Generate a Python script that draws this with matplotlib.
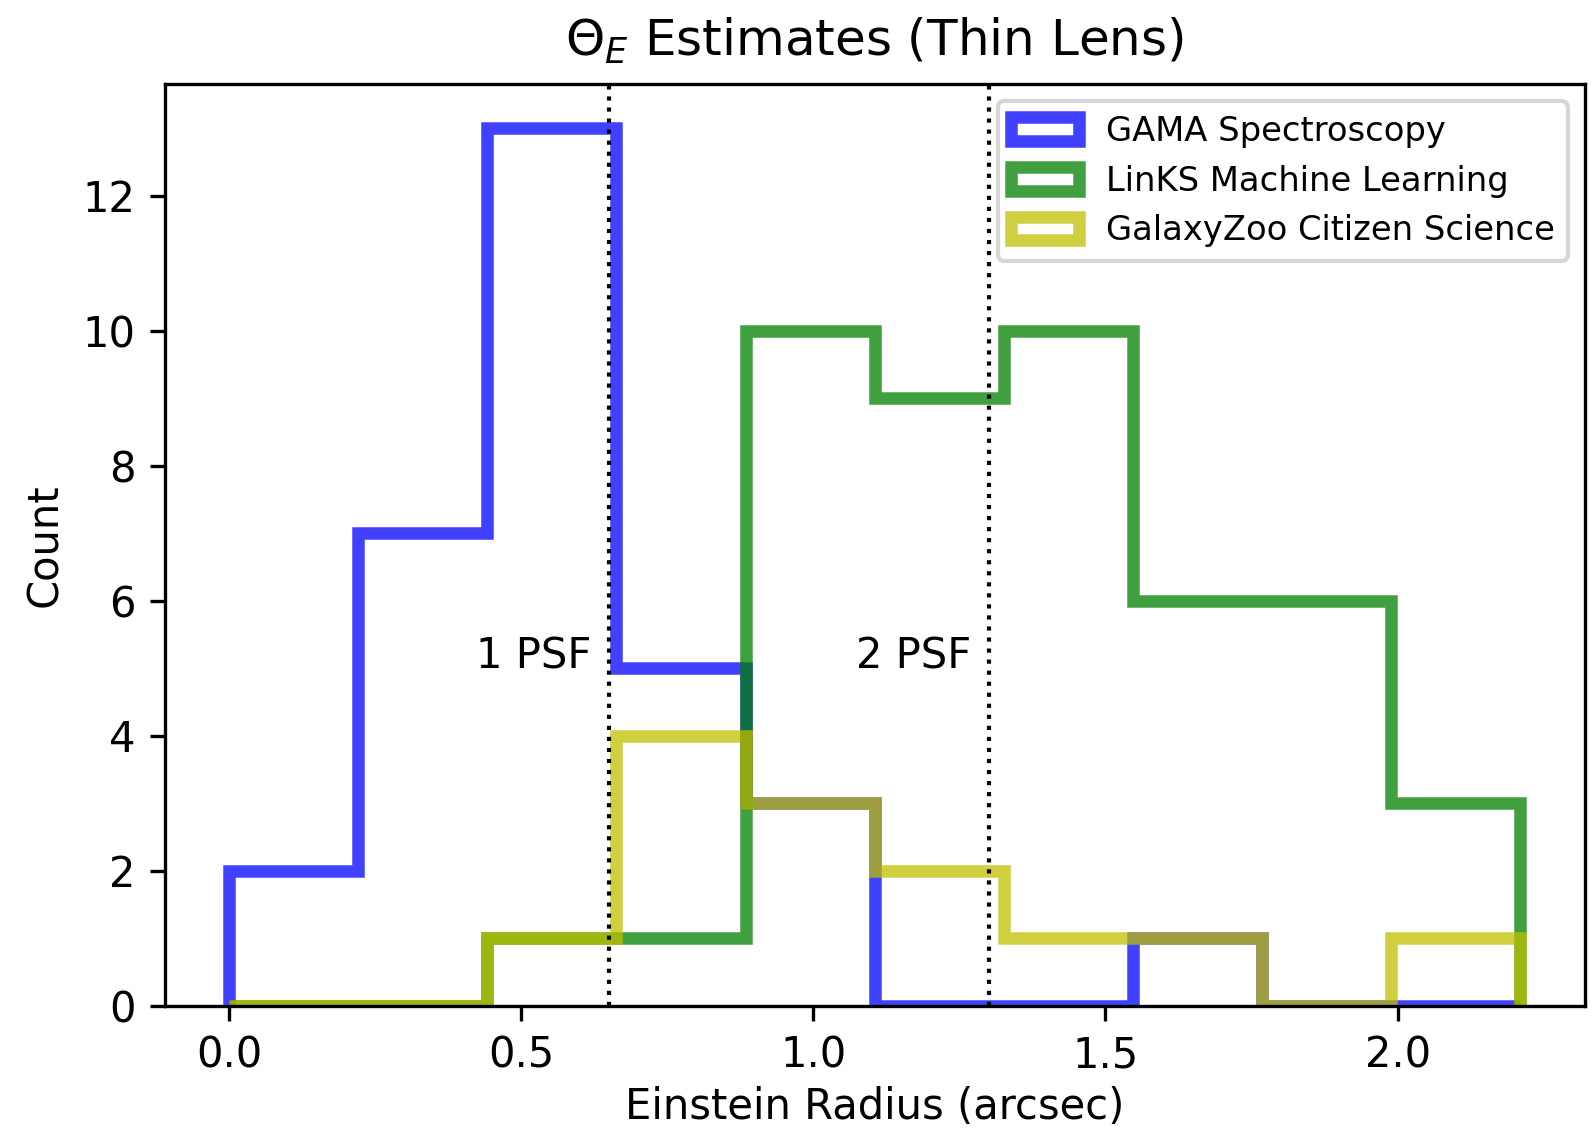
import numpy as np
import matplotlib.pyplot as plt

# bin edges (arcsec) and counts per bin for each sample
edges = np.linspace(0.0, 2.21, 11)
gama_counts = [2, 7, 13, 5, 3, 0, 0, 1, 0, 0]
links_counts = [0, 0, 1, 1, 10, 9, 10, 6, 6, 3]
zoo_counts = [0, 0, 1, 4, 3, 2, 1, 1, 0, 1]

psf = 0.65  # arcsec

fig = plt.figure(figsize=(5.31, 3.77), dpi=300)
ax = fig.add_subplot(111)
fig.subplots_adjust(left=0.1033, right=0.9949, top=0.9255, bottom=0.1107)

ax.hist(edges[:-1], bins=edges, weights=gama_counts, histtype='step',
        lw=3, alpha=0.75, color='b', label='GAMA Spectroscopy')
ax.hist(edges[:-1], bins=edges, weights=links_counts, histtype='step',
        lw=3, alpha=0.75, color='green', label='LinKS Machine Learning')
ax.hist(edges[:-1], bins=edges, weights=zoo_counts, histtype='step',
        lw=3, alpha=0.75, color='y', label='GalaxyZoo Citizen Science')

# PSF markers
for n in (1, 2):
    ax.axvline(n * psf, color='k', ls=':', lw=1)
    ax.text(n * psf - 0.03, 5, '%d PSF' % n, ha='right')

ax.set_xlabel('Einstein Radius (arcsec)', labelpad=2.2)
ax.set_ylabel('Count')
ax.set_title(r'$\Theta_E$ Estimates (Thin Lens)', pad=6.8)
ax.legend(loc='upper right', fontsize=8.1)

fig.savefig('out.png', dpi=300)
